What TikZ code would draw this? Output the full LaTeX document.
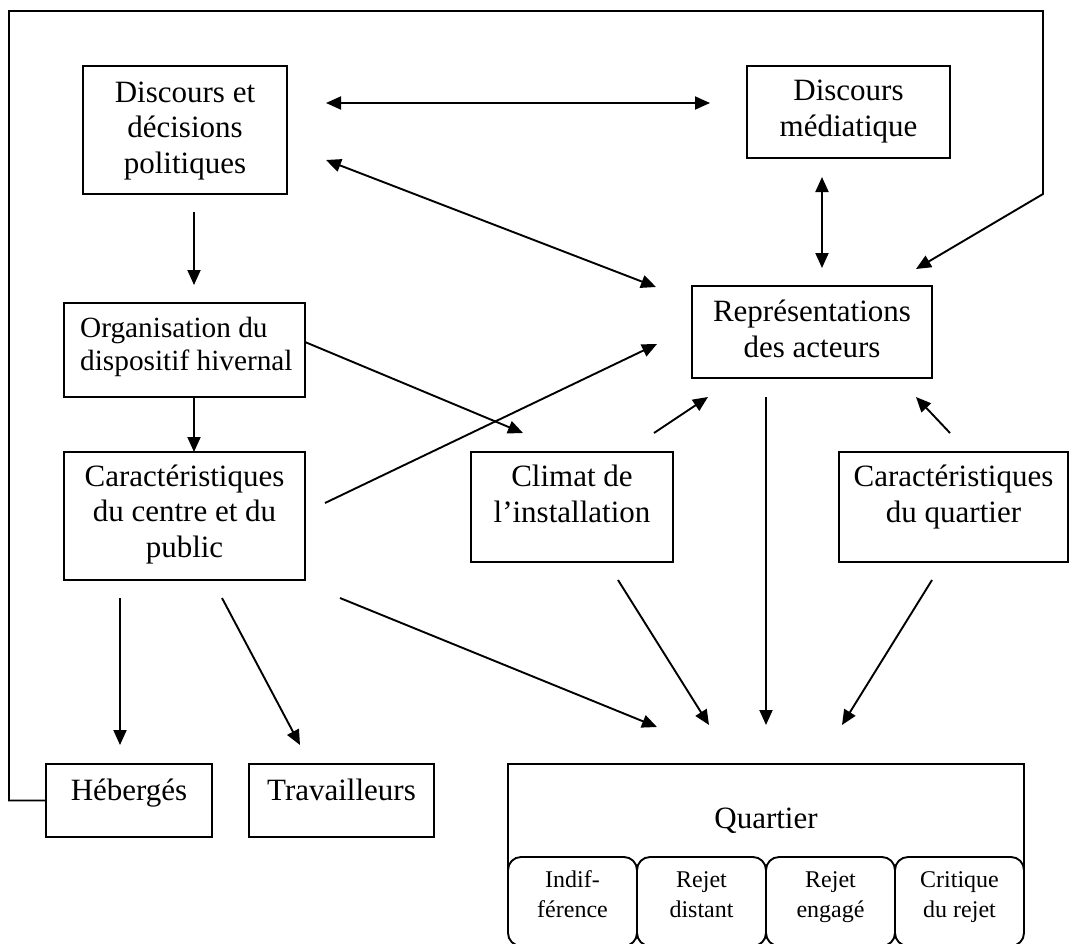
\documentclass[tikz,border=0pt]{standalone}
\usepackage{fontspec}
\setmainfont{Liberation Serif}
\usetikzlibrary{arrows.meta,calc}
\begin{document}
\begin{tikzpicture}[x=1pt,y=-1pt,
  box/.style={draw=black, line width=1.9pt, inner sep=0pt, outer sep=0pt},
  sub/.style={box, fill=white, rounded corners=13pt, minimum width=129pt, minimum height=89pt},
  txt/.style={font=\fontsize{31}{35.5}\selectfont, align=center, inner sep=0pt, anchor=base},
  smalltxt/.style={font=\fontsize{29.3}{33}\selectfont, inner sep=0pt},
  subtxt/.style={font=\fontsize{24}{30}\selectfont, align=center, inner sep=0pt, anchor=base},
  tip/.tip={Triangle[length=15pt,width=13pt]},
  arr/.style={line width=1.9pt, -tip},
  darr/.style={line width=1.9pt, tip-tip},
  fb/.style={line width=1.9pt, -tip}
]
\useasboundingbox (0,0) rectangle (1073,943);
\clip (0,0) rectangle (1073,943);
\fill[white] (0,0) rectangle (1073,943);

% boxes (text nodes anchored at the baseline of their last line)
\node[box, minimum width=204pt, minimum height=128pt] (pol) at (185,130) {};
\node[txt] (polt) at (185,173) {Discours et\\décisions\\politiques};

\node[box, minimum width=203pt, minimum height=92pt] (med) at (848.5,112) {};
\node[txt] (medt) at (848.5,136) {Discours\\médiatique};

\node[box, minimum width=240pt, minimum height=92pt] (rep) at (812,332) {};
\node[txt] (rept) at (812,357) {Représentations\\des acteurs};

\node[box, minimum width=241pt, minimum height=94pt] (org) at (184.5,350) {};
\node[txt, smalltxt, align=left, anchor=base west] (orgt) at (80,370) {Organisation du\\dispositif hivernal};

\node[box, minimum width=241pt, minimum height=128pt] (car) at (184.5,516) {};
\node[txt] (cart) at (184.5,557) {Caractéristiques\\du centre et du\\public};

\node[box, minimum width=202pt, minimum height=110pt] (cli) at (572,507) {};
\node[txt] (clit) at (572,522) {Climat de\\l’installation};

\node[box, minimum width=229pt, minimum height=110pt] (qch) at (953.5,507) {};
\node[txt] (qcht) at (953.5,522) {Caractéristiques\\du quartier};

\node[box, minimum width=166pt, minimum height=73pt] (heb) at (129,800.5) {};
\node[txt] (hebt) at (129,800) {Hébergés};

\node[box, minimum width=185pt, minimum height=73pt] (trav) at (341.5,800.5) {};
\node[txt] (travt) at (341.5,800) {Travailleurs};

\node[box, minimum width=516pt, minimum height=116pt] (qua) at (766,822) {};
\node[txt] (quat) at (766,828) {Quartier};

\node[sub] (s1) at (572.5,901.5) {};
\node[sub] (s2) at (701.5,901.5) {};
\node[sub] (s3) at (830.5,901.5) {};
\node[sub] (s4) at (959.5,901.5) {};
\node[subtxt] (s1t) at (572.5,917) {Indif-\\férence};
\node[subtxt] (s2t) at (701.5,917) {Rejet\\distant};
\node[subtxt] (s3t) at (830.5,917) {Rejet\\engagé};
\node[subtxt] (s4t) at (959.5,917) {Critique\\du rejet};

% connectors
\draw[darr] ($(pol.north east)+(39,37)$) -- ($(med.north west)+(-37,37)$);
\draw[darr] ($(pol.north east)+(39,94)$) -- ($(rep.north west)+(-36,1)$);
\draw[darr] ($(med.south west)+(75,19)$) -- ($(rep.north west)+(130,-18)$);
\draw[arr] ($(pol.south)+(9,18)$) -- ($(org.north)+(9.5,-18)$);
\draw[arr] ($(org.south)+(9.5,0)$) -- ($(car.north)+(9.5,0)$);
\draw[arr] ($(org.north east)+(0,39)$) -- ($(cli.north west)+(52,-19)$);
\draw[arr] ($(car.north east)+(20,51)$) -- ($(rep.west)+(-35,12)$);
\draw[arr] ($(cli.north east)+(-19,-19)$) -- ($(rep.south west)+(16,19)$);
\draw[arr] ($(qch.north)+(-3.5,-19)$) -- ($(rep.south east)+(-16,19)$);
\draw[arr] ($(rep.south west)+(74,19)$) -- ($(qua.north)+(0,-39)$);
\draw[arr] ($(car.south east)+(35,18)$) -- ($(qua.north west)+(149,-37)$);
\draw[arr] ($(cli.south west)+(147,18)$) -- ($(qua.north)+(-57,-39)$);
\draw[arr] ($(qch.south west)+(93,18)$) -- ($(qua.north)+(76,-39)$);
\draw[arr] ($(car.south west)+(56,18)$) -- ($(heb.north)+(-9,-19)$);
\draw[arr] ($(car.south)+(37.5,18)$) -- ($(trav.north)+(-41.5,-19)$);

\coordinate (fbTL) at (9,11);
\coordinate (fbTR) at (1043,11);
\coordinate (fbBR) at (1043,194);
\draw[fb, line join=miter] (heb.west) -| (fbTL) -- (fbTR) -- (fbBR) -- ($(rep.north east)+(-16,-17)$);
\end{tikzpicture}
\end{document}
